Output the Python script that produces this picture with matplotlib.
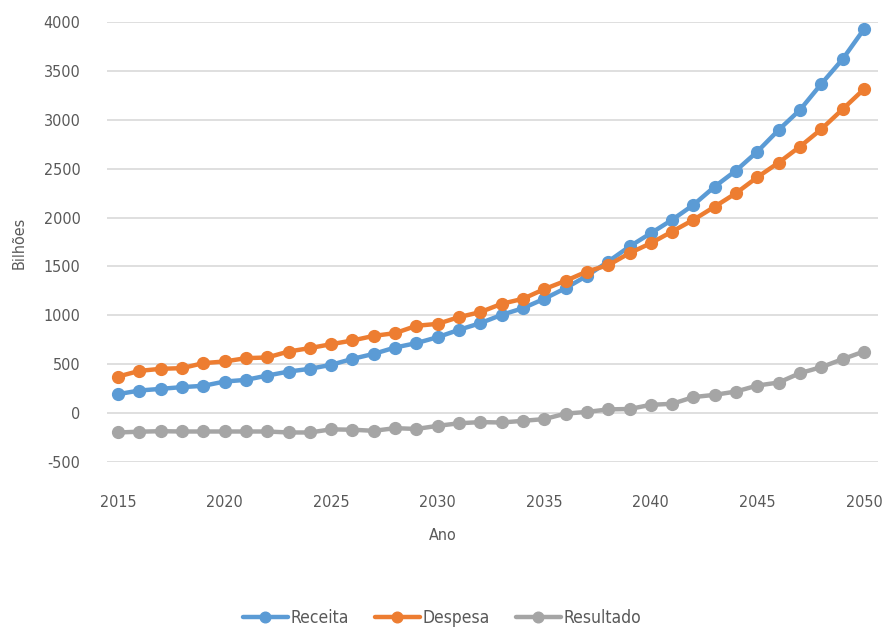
import matplotlib
matplotlib.use("Agg")
import matplotlib.pyplot as plt
from matplotlib import font_manager

years = list(range(2015, 2051))
receita = [194, 231, 248, 266, 279, 323, 340, 384, 425, 453, 494, 555, 606, 671, 716, 777,
           852, 920, 1005, 1073, 1169, 1278, 1404, 1550, 1704, 1840, 1977, 2130, 2317, 2481,
           2675, 2897, 3101, 3367, 3620, 3926]
despesa = [374, 432, 453, 460, 511, 528, 562, 569, 630, 665, 705, 743, 790, 818, 893, 913,
           982, 1033, 1118, 1169, 1268, 1353, 1448, 1513, 1636, 1738, 1857, 1977, 2112, 2250,
           2413, 2562, 2726, 2904, 3108, 3313]
resultado = [-198, -190, -185, -188, -188, -188, -188, -188, -198, -198, -166, -170, -181,
             -154, -162, -130, -104, -92, -96, -79, -61, -5, 12, 38, 42, 85, 95, 164, 187,
             221, 282, 313, 409, 470, 552, 630]
series_names = ["Receita", "Despesa", "Resultado"]
colors = ["#5B9BD5", "#ED7D31", "#A5A5A5"]
xticks = [2015, 2020, 2025, 2030, 2035, 2040, 2045, 2050]
yticks = [-500, 0, 500, 1000, 1500, 2000, 2500, 3000, 3500, 4000]

fonts = font_manager.fontManager.ttflist
names = {f.name for f in fonts}
cond = any(f.name == "DejaVu Sans" and str(f.stretch) in ("condensed", "semi-condensed", "600", "700")
           for f in fonts)
if "Liberation Sans Narrow" in names:
    plt.rcParams["font.family"] = ["Liberation Sans Narrow", "DejaVu Sans"]
    fs = 14
    lfs = 14.5
elif cond:
    plt.rcParams["font.family"] = ["DejaVu Sans"]
    plt.rcParams["font.stretch"] = "condensed"
    fs = 11.5
    lfs = 12.5
else:
    plt.rcParams["font.family"] = ["Liberation Sans", "DejaVu Sans"]
    fs = 12
    lfs = 12.5
plt.rcParams["axes.unicode_minus"] = False
txt = "#595959"

fig = plt.figure(figsize=(8.87, 6.29), dpi=100)
ax = fig.add_axes([107 / 887, 1 - 462 / 629, (878 - 107) / 887, (462 - 22) / 629])

for vals, name, c in zip([receita, despesa, resultado], series_names, colors):
    ax.plot(years, vals, color=c, lw=3.2, marker="o", ms=8.5, label=name,
            solid_capstyle="round")

ax.set_xlim(2014.48, 2050.66)
ax.set_ylim(-500, 4000)
ax.set_xticks(xticks)
ax.set_yticks(yticks)
ax.grid(axis="y", color="#D9D9D9", lw=1.2)
ax.set_axisbelow(True)
for s in ax.spines.values():
    s.set_visible(False)
ax.tick_params(axis="both", length=0, labelsize=fs, colors=txt)
ax.tick_params(axis="y", pad=19)
ax.tick_params(axis="x", pad=24)

fig.text(443 / 887, 1 - 535 / 629, "Ano", ha="center", va="center", fontsize=fs, color=txt)
fig.text(19 / 887, 1 - 243 / 629, "Bilhões", ha="center", va="center", rotation=90,
         fontsize=fs, color=txt)

fig.legend(loc="center", bbox_to_anchor=(442 / 887, 1 - 618 / 629), ncol=3, frameon=False,
           fontsize=lfs, labelcolor=txt, handlelength=2.6, handletextpad=0.15,
           columnspacing=1.5, markerscale=0.9)

fig.savefig("out.png", dpi=100)
